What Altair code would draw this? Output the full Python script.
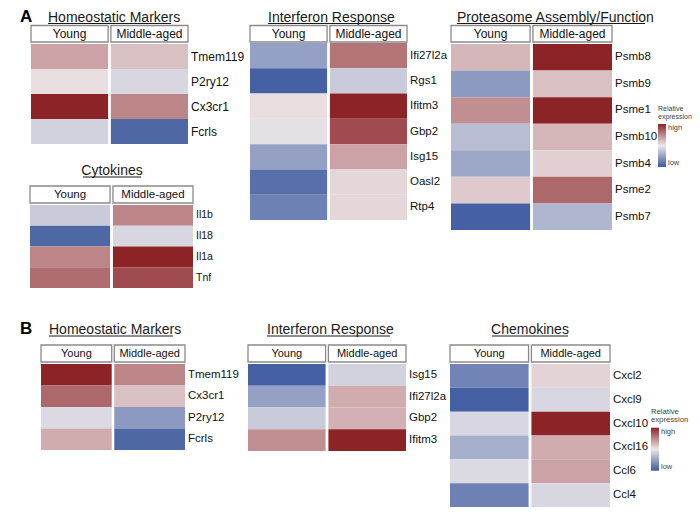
import altair as alt
import pandas as pd

FONT = "Liberation Sans"

groups = ["Young", "Middle-aged"]

a_homeo_genes = ["Tmem119", "P2ry12", "Cx3cr1", "Fcrls"]
a_homeo_young = [0.35, 0.05, 1.0, -0.15]
a_homeo_middle = [0.2, -0.12, 0.5, -0.9]

a_cyto_genes = ["Il1b", "Il18", "Il1a", "Tnf"]
a_cyto_young = [-0.2, -0.9, 0.5, 0.62]
a_cyto_middle = [0.5, -0.12, 1.0, 0.8]

a_ifn_genes = ["Ifi27l2a", "Rgs1", "Ifitm3", "Gbp2", "Isg15", "Oasl2", "Rtp4"]
a_ifn_young = [-0.5, -0.95, 0.05, -0.05, -0.5, -0.85, -0.72]
a_ifn_middle = [0.58, -0.2, 1.0, 0.8, 0.35, 0.08, 0.08]

a_prot_genes = ["Psmb8", "Psmb9", "Psme1", "Psmb10", "Psmb4", "Psme2", "Psmb7"]
a_prot_young = [0.25, -0.55, 0.45, -0.3, -0.45, 0.15, -0.95]
a_prot_middle = [1.0, 0.2, 1.0, 0.25, 0.12, 0.65, -0.35]

b_homeo_genes = ["Tmem119", "Cx3cr1", "P2ry12", "Fcrls"]
b_homeo_young = [1.0, 0.65, -0.1, 0.3]
b_homeo_middle = [0.5, 0.2, -0.55, -0.9]

b_ifn_genes = ["Isg15", "Ifi27l2a", "Gbp2", "Ifitm3"]
b_ifn_young = [-0.95, -0.5, -0.2, 0.45]
b_ifn_middle = [-0.15, 0.3, 0.28, 1.0]

b_chemo_genes = ["Cxcl2", "Cxcl9", "Cxcl10", "Cxcl16", "Ccl6", "Ccl4"]
b_chemo_young = [-0.7, -0.95, -0.12, -0.4, -0.1, -0.72]
b_chemo_middle = [0.1, -0.12, 1.0, 0.3, 0.35, -0.12]

color_domain = [-1, 0, 1]
color_range = ["#3c5a9f", "#ede7e9", "#8b2327"]


def make_legend(lx, ly, tfs):
    return alt.Legend(
        title=["Relative", "expression"], orient="none", legendX=lx, legendY=ly,
        direction="vertical", values=[-1, 1],
        labelExpr="datum.value > 0 ? 'high' : 'low'",
        gradientLength=43, gradientThickness=8, gradientStrokeWidth=0,
        titleFontSize=tfs, titleFont=FONT, titleFontWeight="normal", titleColor="#444",
        titleLineHeight=8,
        labelFontSize=7.5, labelFont=FONT, labelColor="#444", titlePadding=4, labelOffset=2,
    )


def panel(genes, young, middle, title, xr, yr, hdr, header_fs, label_fs,
          title_x, title_y, title_align, ul, legend=None, letter=None):
    cells = pd.DataFrame({
        "gene": genes * 2,
        "group": [groups[0]] * len(genes) + [groups[1]] * len(genes),
        "v": young + middle,
    })
    xs = alt.Scale(domain=groups, range=list(xr), paddingInner=0.035, paddingOuter=0)
    ys = alt.Scale(domain=genes, range=list(yr), paddingInner=0, paddingOuter=0)
    cscale = alt.Scale(domain=color_domain, range=color_range, interpolate="rgb")
    rect = alt.Chart(cells).mark_rect().encode(
        x=alt.X("group:N", scale=xs, axis=None),
        y=alt.Y("gene:N", scale=ys, axis=None),
        color=alt.Color("v:Q", scale=cscale, legend=legend),
    )
    hdf = pd.DataFrame({"group": groups})
    hrect = alt.Chart(hdf).mark_rect(fill="white", stroke="#8a8a8a", strokeWidth=1.3).encode(
        x=alt.X("group:N", scale=xs, axis=None), y=alt.value(hdr[0]), y2=alt.value(hdr[1]))
    htext = alt.Chart(hdf).mark_text(font=FONT, fontSize=header_fs, baseline="middle",
                                     color="#111").encode(
        x=alt.X("group:N", scale=xs, axis=None), y=alt.value((hdr[0] + hdr[1]) / 2 + 0.5),
        text="group:N")
    gdf = pd.DataFrame({"gene": genes, "group": [groups[1]] * len(genes)})
    glab = alt.Chart(gdf).mark_text(font=FONT, fontSize=label_fs, align="left",
                                    baseline="middle", dx=3, color="#111").encode(
        x=alt.X("group:N", scale=xs, axis=None, bandPosition=1),
        y=alt.Y("gene:N", scale=ys, axis=None),
        text="gene:N")
    tdf = pd.DataFrame({"t": [title]})
    ttext = alt.Chart(tdf).mark_text(font=FONT, fontSize=14, align=title_align,
                                     baseline="alphabetic", color="#1a1a1a").encode(
        x=alt.value(title_x), y=alt.value(title_y), text="t:N")
    uline = alt.Chart(tdf).mark_rule(color="#1a1a1a", strokeWidth=1).encode(
        x=alt.value(ul[0]), x2=alt.value(ul[1]), y=alt.value(title_y + 2))
    layers = [rect, hrect, htext, glab, ttext, uline]
    if letter is not None:
        ldf = pd.DataFrame({"t": [letter]})
        layers.append(alt.Chart(ldf).mark_text(font=FONT, fontSize=17, fontWeight="bold",
                                               align="left", baseline="alphabetic",
                                               color="#000").encode(
            x=alt.value(12), y=alt.value(title_y), text="t:N"))
    return alt.layer(*layers)


homeA = panel(a_homeo_genes, a_homeo_young, a_homeo_middle, "Homeostatic Markers",
              (23, 180), (36, 136), (17.5, 34), 12, 12, 40, 13.5, "left", (40, 163), letter="A")
cytoA = panel(a_cyto_genes, a_cyto_young, a_cyto_middle, "Cytokines",
              (22, 185), (197, 280), (178, 195), 11.5, 10.5, 104, 167, "center", (75, 133))
ifnA = panel(a_ifn_genes, a_ifn_young, a_ifn_middle, "Interferon Response",
             (242, 399), (35, 212), (17.5, 34), 12, 11.5, 260, 13.5, "left", (260, 382))
protA = panel(a_prot_genes, a_prot_young, a_prot_middle, "Proteasome Assembly/Function",
              (443, 604), (36, 222), (17.5, 34), 12, 11.5, 449, 13.5, "left", (449, 637),
              legend=make_legend(650, 97, 7.0))

homeB = panel(b_homeo_genes, b_homeo_young, b_homeo_middle, "Homeostatic Markers",
              (33, 177), (356, 442), (337, 354), 11, 11.5, 41, 326, "left", (41, 165),
              letter="B")
ifnB = panel(b_ifn_genes, b_ifn_young, b_ifn_middle, "Interferon Response",
             (240, 398), (356, 443), (337, 354), 11, 11.5, 259, 326, "left", (259, 382))
chemoB = panel(b_chemo_genes, b_chemo_young, b_chemo_middle, "Chemokines",
               (442, 602), (356, 499), (337, 354), 11, 11.5, 522, 326, "center", (484, 560),
               legend=make_legend(643, 400, 7.7))

chart = alt.layer(homeA, cytoA, ifnA, protA, homeB, ifnB, chemoB).resolve_scale(
    x="independent", y="independent", color="independent"
).properties(
    width=684, height=500, padding=0, background="white",
    autosize=alt.AutoSizeParams(type="none"),
).configure_view(stroke=None)

chart.save("out.html", embed_options={"renderer": "svg", "actions": False})
